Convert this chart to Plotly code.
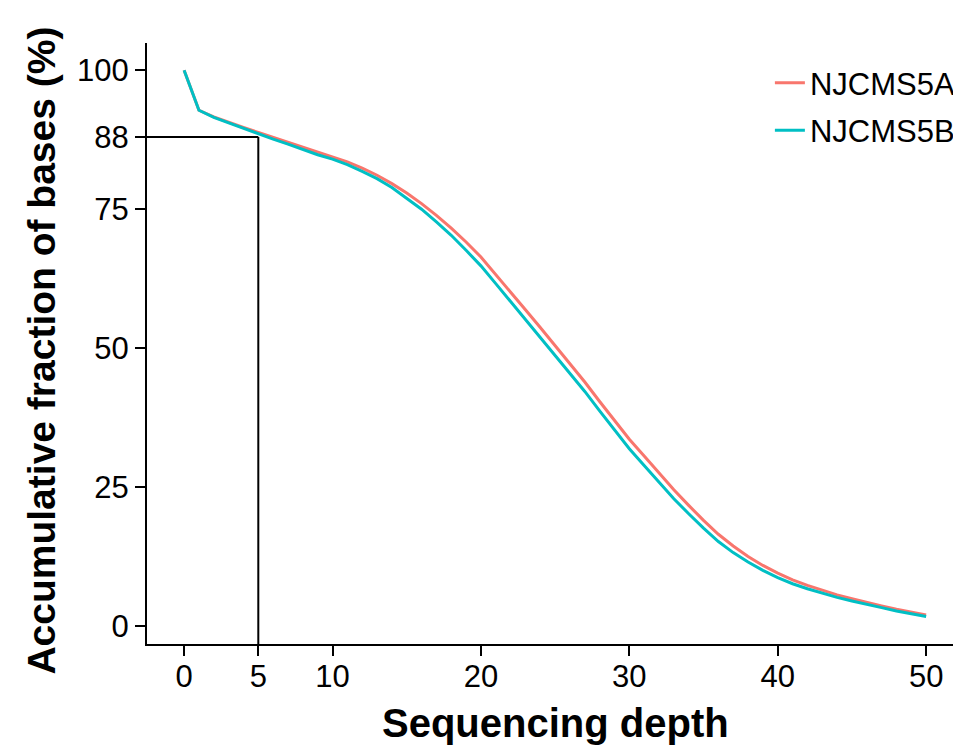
import plotly.graph_objects as go

# sequencing depth (x) and accumulative fraction of bases (%) per sample
depth = list(range(0, 51))
njcms5a = [100, 92.8, 91.6, 90.6, 89.7, 88.8, 87.9, 87.0, 86.1, 85.2,
           84.4, 83.5, 82.4, 81.1, 79.6, 77.9, 76.0, 73.9, 71.6, 69.1,
           66.4, 63.3, 60.1, 56.9, 53.7, 50.5, 47.2, 43.9, 40.4, 37.0,
           33.6, 30.6, 27.5, 24.5, 21.7, 19.0, 16.5, 14.4, 12.5, 10.9,
           9.5, 8.3, 7.3, 6.4, 5.6, 4.9, 4.2, 3.6, 3.0, 2.5, 2.0]
njcms5b = [100, 92.8, 91.5, 90.5, 89.5, 88.6, 87.6, 86.7, 85.7, 84.8,
           84.0, 83.0, 81.8, 80.5, 78.9, 77.0, 75.0, 72.7, 70.3, 67.6,
           64.8, 61.6, 58.4, 55.2, 52.0, 48.8, 45.5, 42.2, 38.7, 35.3,
           31.9, 28.9, 25.9, 22.9, 20.2, 17.6, 15.2, 13.2, 11.5, 10.0,
           8.7, 7.6, 6.7, 5.9, 5.15, 4.5, 3.85, 3.3, 2.7, 2.2, 1.7]

cutoff_depth = 5
cutoff_pct = 88

x_ticks = [0, 5, 10, 20, 30, 40, 50]
y_ticks = [0, 25, 50, 75, 88, 100]

RED = '#F8766D'
CYAN = '#00BFC4'
FONT = 'Liberation Sans, Arial, sans-serif'

x_range = [-2.5, 52.08]
y_range = [-3.24, 104.9]

fig = go.Figure()
fig.add_trace(go.Scatter(x=depth, y=njcms5a, mode='lines', name='NJCMS5A',
                         legendgroup='a', line=dict(color=RED, width=3)))
fig.add_trace(go.Scatter(x=depth, y=njcms5b, mode='lines', name='NJCMS5B',
                         legendgroup='b', line=dict(color=CYAN, width=3)))

# guide lines at the 5x depth cutoff
fig.add_shape(type='line', x0=x_range[0], x1=cutoff_depth, y0=cutoff_pct, y1=cutoff_pct,
              line=dict(color='black', width=2), layer='below')
fig.add_shape(type='line', x0=cutoff_depth, x1=cutoff_depth, y0=y_range[0], y1=cutoff_pct,
              line=dict(color='black', width=2), layer='below')

axis_common = dict(showgrid=False, zeroline=False, showline=True, linecolor='black',
                   linewidth=2, ticks='outside', ticklen=10, tickwidth=2, automargin=False,
                   tickcolor='black', tickfont=dict(family=FONT, size=31, color='black'))

# page body has an 8px margin, so the figure is sized to fit the window
fig.update_layout(
    width=953, height=737,
    plot_bgcolor='white', paper_bgcolor='white',
    margin=dict(l=139, r=0, t=35, b=101),
    font=dict(family=FONT, color='black'),
    xaxis=dict(range=x_range, tickvals=x_ticks, ticklabelstandoff=-6, **axis_common),
    yaxis=dict(range=y_range, tickvals=y_ticks, **axis_common),
    legend=dict(x=0.769, y=0.978, xanchor='left', yanchor='top',
                font=dict(size=31, color='black'), bgcolor='rgba(0,0,0,0)',
                tracegroupgap=4),
)

fig.add_annotation(text='<b>Sequencing depth</b>', xref='paper', yref='paper',
                   x=0.504, y=-0.131, xanchor='center', yanchor='middle', showarrow=False,
                   font=dict(size=40, color='black'))
fig.add_annotation(text='<b>Accumulative fraction of bases (%)</b>', xref='paper', yref='paper',
                   x=-0.1314, y=0.4875, xanchor='center', yanchor='middle', showarrow=False,
                   textangle=-90, font=dict(size=39, color='black'))

fig.write_html('out.html')
